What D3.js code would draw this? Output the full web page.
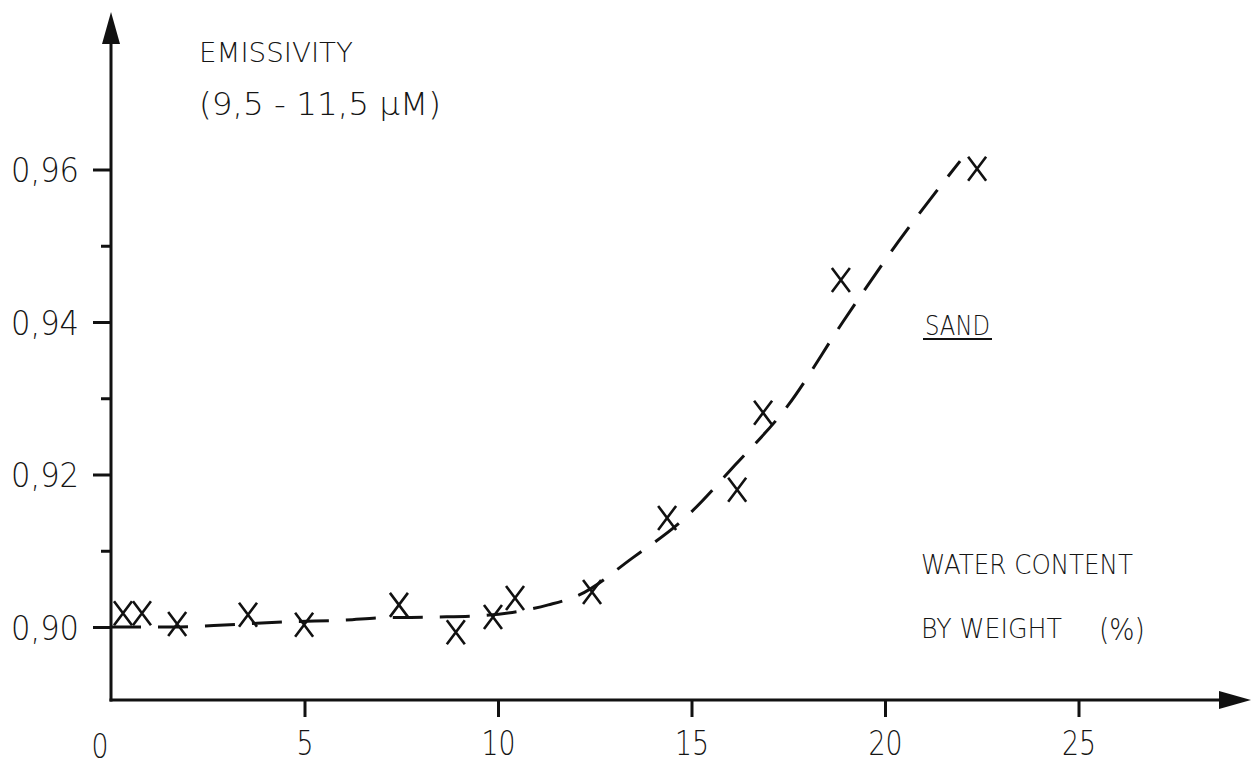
<!DOCTYPE html>
<html>
<head>
<meta charset="utf-8">
<script src="https://cdn.jsdelivr.net/npm/d3@7"></script>
<style>
  body { margin: 0; background: #fff; }
  text { font-family: "DejaVu Sans", sans-serif; font-weight: 200; fill: #151515; }
</style>
</head>
<body>
<div id="chart"></div>
<script>
// measured points (water content %, emissivity)
const waterContent = [0.31, 0.80, 1.71, 3.54, 4.99, 7.44, 8.91, 9.87, 10.44, 12.43, 14.37, 16.18, 16.85, 18.86, 22.38];
const emissivity = [0.9018, 0.9018, 0.9004, 0.9016, 0.9003, 0.9029, 0.8993, 0.9013, 0.9038, 0.9046, 0.9143, 0.9180, 0.9281, 0.9455, 0.9601];

// hand drawn trend curve
const curveX = [0, 1.52, 3.07, 4.63, 6.05, 7.0, 8.42, 9.59, 10.7, 11.3, 12.1, 13.46, 14.83, 16.12, 17.47, 18.91, 20.34, 21.94];
const curveY = [0.9000, 0.9000, 0.9003, 0.9007, 0.9009, 0.9012, 0.9013, 0.9015, 0.9022, 0.9029, 0.9042, 0.9090, 0.9143, 0.9212, 0.9289, 0.9400, 0.9505, 0.9611];

const xTicks = [0, 5, 10, 15, 20, 25];
const yMajorTicks = [0.90, 0.92, 0.94, 0.96];
const yMinorTicks = [0.91, 0.93, 0.95];
const yTickLabels = ['0,90', '0,92', '0,94', '0,96'];

const width = 1251;
const height = 770;

const svg = d3.select('#chart').append('svg')
  .attr('width', width)
  .attr('height', height);

const x = d3.scaleLinear().domain([0, 25]).range([111, 111 + 25 * 38.7]);
const y = d3.scaleLinear().domain([0.90, 0.96]).range([627, 627 - 0.06 * 7625]);

const axisY = 700;      // pixel row of the x axis
const axisX = x(0);     // pixel column of the y axis
const ink = '#111';
const digitW = 17;      // plotter digits are narrow

// axis lines with arrow heads
svg.append('line')
  .attr('x1', axisX).attr('y1', axisY + 1.5)
  .attr('x2', axisX).attr('y2', 30)
  .attr('stroke', ink).attr('stroke-width', 3);
svg.append('path')
  .attr('d', `M${axisX},12 L${axisX - 9},44 L${axisX + 9},44 Z`)
  .attr('fill', ink);

svg.append('line')
  .attr('x1', axisX - 1.5).attr('y1', axisY)
  .attr('x2', 1235).attr('y2', axisY)
  .attr('stroke', ink).attr('stroke-width', 3);
svg.append('path')
  .attr('d', `M1251,${axisY} L1219,${axisY - 9} L1219,${axisY + 9} Z`)
  .attr('fill', ink);

// y axis ticks
const yAxis = svg.append('g')
  .attr('transform', `translate(${axisX},0)`)
  .call(d3.axisLeft(y).tickValues(yMajorTicks).tickSize(18).tickPadding(14)
    .tickFormat((d, i) => yTickLabels[i]));
yAxis.select('.domain').remove();
yAxis.selectAll('line').attr('stroke', ink).attr('stroke-width', 3);
yAxis.selectAll('text')
  .attr('font-size', 34)
  .attr('dy', '0.36em')
  .attr('textLength', 68)
  .attr('lengthAdjust', 'spacingAndGlyphs')
  .attr('fill', ink)
  .style('font-family', '"DejaVu Sans", sans-serif');

const yMinor = svg.append('g')
  .attr('transform', `translate(${axisX},0)`)
  .call(d3.axisLeft(y).tickValues(yMinorTicks).tickSize(10).tickFormat(''));
yMinor.select('.domain').remove();
yMinor.selectAll('line').attr('stroke', ink).attr('stroke-width', 3);

// x axis ticks
const xAxis = svg.append('g')
  .attr('transform', `translate(0,${axisY})`)
  .call(d3.axisBottom(x).tickValues(xTicks.slice(1)).tickSize(17).tickPadding(14));
xAxis.select('.domain').remove();
xAxis.selectAll('line').attr('stroke', ink).attr('stroke-width', 3);
xAxis.selectAll('text')
  .attr('font-size', 34)
  .attr('dy', '0.71em')
  .attr('textLength', d => String(d).length * digitW)
  .attr('lengthAdjust', 'spacingAndGlyphs')
  .attr('fill', ink)
  .style('font-family', '"DejaVu Sans", sans-serif');

// the "0" sits under the axis corner, no tick mark
svg.append('text')
  .attr('x', x(0) - 11)
  .attr('y', 758)
  .attr('text-anchor', 'middle')
  .attr('font-size', 34)
  .attr('textLength', digitW)
  .attr('lengthAdjust', 'spacingAndGlyphs')
  .text(xTicks[0]);

// dashed trend line
const curveData = curveX.map((d, i) => [d, curveY[i]]);
const line = d3.line()
  .x(d => x(d[0]))
  .y(d => y(d[1]))
  .curve(d3.curveMonotoneX);

svg.append('path')
  .datum(curveData)
  .attr('d', line)
  .attr('fill', 'none')
  .attr('stroke', ink)
  .attr('stroke-width', 3)
  .attr('stroke-dasharray', '30,17');

// X markers
const points = waterContent.map((d, i) => [d, emissivity[i]]);
svg.selectAll('path.mark')
  .data(points)
  .enter().append('path')
  .attr('class', 'mark')
  .attr('transform', d => `translate(${x(d[0])},${y(d[1])})`)
  .attr('d', 'M-9,-12 L9,12 M9,-12 L-9,12')
  .attr('fill', 'none')
  .attr('stroke', ink)
  .attr('stroke-width', 2.6);

// annotations
function label(txt, lx, ly, size, len) {
  return svg.append('text')
    .attr('x', lx)
    .attr('y', ly)
    .attr('font-size', size)
    .attr('textLength', len)
    .attr('lengthAdjust', 'spacingAndGlyphs')
    .text(txt);
}

label('EMISSIVITY', 199, 62, 27, 154);
label('(9,5 - 11,5 \u00b5M)', 199, 115, 32, 242);
label('SAND', 925, 335, 27, 65);
svg.append('line')
  .attr('x1', 923).attr('x2', 992)
  .attr('y1', 339).attr('y2', 339)
  .attr('stroke', ink).attr('stroke-width', 2);
label('WATER CONTENT', 921, 574, 27, 212);
label('BY WEIGHT', 921, 638, 27, 141);
label('(%)', 1099, 640, 30, 46);
</script>
</body>
</html>
